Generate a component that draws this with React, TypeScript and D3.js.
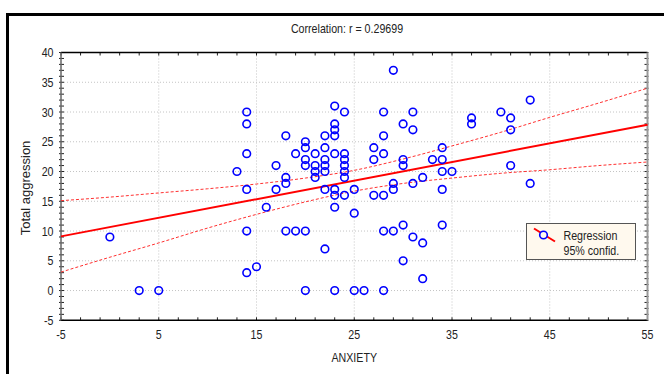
import { useEffect, useRef } from "react";
import * as d3 from "d3";

// ── Data ──────────────────────────────────────────────────────────────────────
const anxiety = [
  0, 3, 5, 13,
  14, 14, 14, 14, 14, 14,
  15, 16,
  17, 17,
  18, 18, 18, 18,
  19, 19,
  20, 20, 20, 20, 20, 20,
  21, 21, 21, 21,
  22, 22, 22, 22, 22, 22, 22,
  23, 23, 23, 23, 23, 23, 23, 23, 23,
  24, 24, 24, 24, 24, 24, 24,
  25, 25, 25,
  26,
  27, 27, 27,
  28, 28, 28, 28, 28, 28,
  29, 29, 29, 29,
  30, 30, 30, 30, 30,
  31, 31, 31, 31,
  32, 32, 32,
  33,
  34, 34, 34, 34, 34,
  35,
  37, 37,
  40,
  41, 41, 41,
  43, 43,
];
const aggression = [
  9, 0, 0, 20,
  30, 28, 23, 17, 10, 3,
  4, 14,
  21, 17,
  26, 19, 18, 10,
  23, 10,
  25, 24, 22, 21, 10, 0,
  23, 21, 20, 19,
  26, 24, 22, 21, 20, 17, 7,
  31, 28, 27, 26, 23, 17, 16, 14, 0,
  30, 23, 22, 21, 20, 19, 16,
  17, 13, 0,
  0,
  24, 22, 16,
  30, 26, 23, 16, 10, 0,
  37, 18, 17, 10,
  28, 22, 21, 11, 5,
  30, 27, 18, 9,
  19, 8, 2,
  22,
  24, 22, 20, 17, 11,
  20,
  29, 28,
  30,
  29, 27, 21,
  32, 18,
];

// regression line end points and 95% confidence band
const regX = [-5, 55];
const regY = [9.1, 27.85];
const bandX = [-5, 0, 5, 10, 15, 20, 25, 30, 35, 40, 45, 50, 55];
const bandUpper = [15.1, 15.7, 16.4, 17.1, 17.9, 18.9, 20.2, 22.1, 24.3, 26.6, 29.1, 31.5, 34.0];
const bandLower = [3.1, 5.6, 8.0, 10.5, 12.8, 14.9, 16.7, 18.0, 18.9, 19.7, 20.3, 21.0, 21.6];

const xTicks = [-5, 5, 15, 25, 35, 45, 55];
const yTicks = [-5, 0, 5, 10, 15, 20, 25, 30, 35, 40];

const title = "Correlation: r = 0.29699";
const xTitle = "ANXIETY";
const yTitle = "Total aggression";
const legendLabels = ["Regression", "95% confid."];

export default function App() {
  const svgRef = useRef<SVGSVGElement>(null);

  useEffect(() => {
    if (!svgRef.current) return;
    const width = 664;
    const height = 374;
    const font = "'Liberation Sans', Arial, sans-serif";
    const squeeze = 0.82; // the original text is horizontally condensed

    const svg = d3.select(svgRef.current);
    svg.selectAll("*").remove();
    svg.attr("viewBox", `0 0 ${width} ${height}`);

    // ── Scales ─────────────────────────────────────────────────────────────
    const x = d3.scaleLinear().domain([-5, 55]).range([61, 647.5]);
    const y = d3.scaleLinear().domain([-5, 40]).range([320.3, 52.5]);
    const [x0, x1] = x.range();
    const [yb, yt] = y.range();

    svg.append("rect").attr("width", width).attr("height", height).attr("fill", "#fff");

    // ── Outer frame (top + left edges visible) ───────────────────────────────
    svg
      .append("path")
      .attr("d", `M7.5,${height} V14.5 H${width}`)
      .attr("fill", "none")
      .attr("stroke", "#000")
      .attr("stroke-width", 3);

    // ── Grid ───────────────────────────────────────────────────────────────
    const grid = svg.append("g").attr("stroke", "#c4c4c4").attr("stroke-dasharray", "1 2");
    grid
      .selectAll("line.gx")
      .data(xTicks.slice(1, -1))
      .join("line")
      .attr("x1", (d) => x(d))
      .attr("x2", (d) => x(d))
      .attr("y1", yt)
      .attr("y2", yb);
    grid
      .selectAll("line.gy")
      .data(yTicks.slice(1, -1))
      .join("line")
      .attr("class", "gy")
      .attr("x1", x0)
      .attr("x2", x1)
      .attr("y1", (d) => y(d))
      .attr("y2", (d) => y(d));

    // ── Frame + minor ticks ──────────────────────────────────────────────────
    const ticks = svg.append("g").attr("stroke", "#222").attr("stroke-width", 1);
    const xMinor = d3.range(-5, 56, 2);
    const yMinor = d3.range(-5, 41, 1);
    ticks
      .selectAll("line.tb")
      .data(xMinor)
      .join("line")
      .attr("class", "tb")
      .attr("x1", (d) => x(d))
      .attr("x2", (d) => x(d))
      .attr("y1", yb)
      .attr("y2", yb - 3);
    ticks
      .selectAll("line.tt")
      .data(xMinor)
      .join("line")
      .attr("class", "tt")
      .attr("x1", (d) => x(d))
      .attr("x2", (d) => x(d))
      .attr("y1", yt)
      .attr("y2", yt + 3);
    ticks
      .selectAll("line.tl")
      .data(yMinor)
      .join("line")
      .attr("class", "tl")
      .attr("x1", x0 - 2)
      .attr("x2", x0 + 3)
      .attr("y1", (d) => y(d))
      .attr("y2", (d) => y(d));
    ticks
      .selectAll("line.tr")
      .data(yMinor)
      .join("line")
      .attr("class", "tr")
      .attr("x1", x1 - 3)
      .attr("x2", x1 + 1)
      .attr("y1", (d) => y(d))
      .attr("y2", (d) => y(d));

    svg.append("line").attr("x1", x0).attr("x2", x1).attr("y1", yt).attr("y2", yt)
      .attr("stroke", "#000").attr("stroke-width", 1.5);
    svg.append("line").attr("x1", x0).attr("x2", x1).attr("y1", yb).attr("y2", yb)
      .attr("stroke", "#000").attr("stroke-width", 1.5);
    svg.append("line").attr("x1", x0).attr("x2", x0).attr("y1", yt).attr("y2", yb)
      .attr("stroke", "#666").attr("stroke-width", 1.5);
    svg.append("line").attr("x1", x1).attr("x2", x1).attr("y1", yt).attr("y2", yb)
      .attr("stroke", "#999").attr("stroke-width", 2);

    // ── Tick labels ──────────────────────────────────────────────────────────
    svg
      .append("g")
      .selectAll("text")
      .data(xTicks)
      .join("text")
      .attr("transform", (d) => `translate(${x(d)},${yb + 19}) scale(${squeeze},1)`)
      .attr("text-anchor", "middle")
      .attr("font-family", font)
      .attr("font-size", 13)
      .attr("fill", "#222")
      .text((d) => d);

    svg
      .append("g")
      .selectAll("text")
      .data(yTicks)
      .join("text")
      .attr("transform", (d) => `translate(${x0 - 7.5},${y(d) + 4.5}) scale(${squeeze},1)`)
      .attr("text-anchor", "end")
      .attr("font-family", font)
      .attr("font-size", 13)
      .attr("fill", "#222")
      .text((d) => d);

    // ── Titles ───────────────────────────────────────────────────────────────
    svg
      .append("text")
      .attr("transform", `translate(347,32.5) scale(${squeeze},1)`)
      .attr("text-anchor", "middle")
      .attr("font-family", font)
      .attr("font-size", 13)
      .attr("fill", "#222")
      .text(title);
    svg
      .append("text")
      .attr("transform", `translate(${(x0 + x1) / 2},362) scale(${squeeze},1)`)
      .attr("text-anchor", "middle")
      .attr("font-family", font)
      .attr("font-size", 13)
      .attr("fill", "#222")
      .text(xTitle);
    svg
      .append("text")
      .attr("transform", `translate(29.5,188) rotate(-90)`)
      .attr("text-anchor", "middle")
      .attr("font-family", font)
      .attr("font-size", 13)
      .attr("fill", "#222")
      .text(yTitle);

    // ── Confidence band + regression ─────────────────────────────────────────
    const band = d3
      .line<number>()
      .x((_, i) => x(bandX[i]))
      .curve(d3.curveMonotoneX);
    svg
      .append("path")
      .attr("d", band.y((d) => y(d))(bandUpper))
      .attr("fill", "none")
      .attr("stroke", "#ff3030")
      .attr("stroke-width", 1)
      .attr("stroke-dasharray", "3 2");
    svg
      .append("path")
      .attr("d", band.y((d) => y(d))(bandLower))
      .attr("fill", "none")
      .attr("stroke", "#ff3030")
      .attr("stroke-width", 1)
      .attr("stroke-dasharray", "3 2");

    svg
      .append("path")
      .attr(
        "d",
        d3
          .line<number>()
          .x((_, i) => x(regX[i]))
          .y((d) => y(d))(regY)
      )
      .attr("fill", "none")
      .attr("stroke", "#ff0000")
      .attr("stroke-width", 2);

    // ── Points ───────────────────────────────────────────────────────────────
    svg
      .append("g")
      .selectAll("circle")
      .data(anxiety.map((a, i) => [a, aggression[i]]))
      .join("circle")
      .attr("cx", (d) => x(d[0]))
      .attr("cy", (d) => y(d[1]))
      .attr("r", 3.8)
      .attr("fill", "none")
      .attr("stroke", "#0000ff")
      .attr("stroke-width", 1.6);

    // ── Legend ───────────────────────────────────────────────────────────────
    const lg = svg.append("g").attr("transform", "translate(526.5,223.5)");
    lg.append("rect")
      .attr("width", 109)
      .attr("height", 36)
      .attr("fill", "#fff9ee")
      .attr("stroke", "#555")
      .attr("stroke-width", 1);
    lg.append("line")
      .attr("x1", 7.5)
      .attr("y1", 5)
      .attr("x2", 28.5)
      .attr("y2", 18)
      .attr("stroke", "#ff0000")
      .attr("stroke-width", 2);
    lg.append("circle")
      .attr("cx", 17)
      .attr("cy", 11.5)
      .attr("r", 3.8)
      .attr("fill", "#fff9ee")
      .attr("stroke", "#0000ff")
      .attr("stroke-width", 1.6);
    lg.selectAll("text")
      .data(legendLabels)
      .join("text")
      .attr("transform", (_, i) => `translate(37,${16.5 + i * 15}) scale(${squeeze},1)`)
      .attr("font-family", font)
      .attr("font-size", 13)
      .attr("fill", "#222")
      .text((d) => d);
  }, []);

  return (
    <svg
      ref={svgRef}
      width={664}
      height={374}
      style={{ position: "absolute", left: 0, top: 0, display: "block" }}
    />
  );
}
